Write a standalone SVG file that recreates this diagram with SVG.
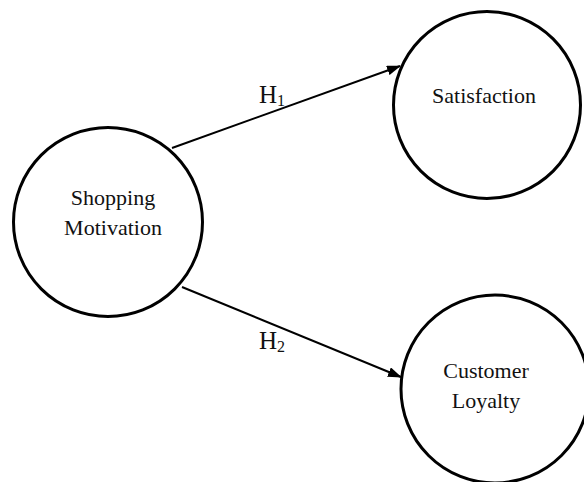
<svg xmlns="http://www.w3.org/2000/svg" width="584" height="482" viewBox="0 0 584 482">
  <style>
    .node { fill: #ffffff; stroke: #000000; stroke-width: 3; }
    .label { font-family: "Liberation Serif", "Times New Roman", serif; font-size: 22px; fill: #111111; text-anchor: middle; }
    .hyp { font-family: "Liberation Serif", "Times New Roman", serif; font-size: 25px; fill: #111111; }
    .sub { font-size: 16px; }
    .edge { stroke: #000000; stroke-width: 2; fill: none; marker-end: url(#arrow); }
  </style>
  <defs>
    <marker id="arrow" markerWidth="14" markerHeight="10" refX="13" refY="5" orient="auto" markerUnits="userSpaceOnUse">
      <path d="M0,0 L14,5 L0,10 Z" fill="#000000"/>
    </marker>
  </defs>
  <rect width="584" height="482" fill="#ffffff"/>

  <g id="connectors">
    <line class="edge" x1="172" y1="148" x2="400" y2="66"/>
    <line class="edge" x1="182" y1="287" x2="401" y2="377"/>
    <text class="hyp" x="259" y="103">H<tspan class="sub" dy="3">1</tspan></text>
    <text class="hyp" x="259" y="349">H<tspan class="sub" dy="3">2</tspan></text>
  </g>

  <g id="shopping-motivation">
    <circle class="node" cx="108" cy="222" r="94.5"/>
    <text class="label" x="113" y="205">Shopping</text>
    <text class="label" x="113" y="235">Motivation</text>
  </g>

  <g id="satisfaction">
    <circle class="node" cx="487" cy="105" r="93.5"/>
    <text class="label" x="484" y="103">Satisfaction</text>
  </g>

  <g id="customer-loyalty">
    <circle class="node" cx="495" cy="389" r="94"/>
    <text class="label" x="486" y="378">Customer</text>
    <text class="label" x="486" y="408">Loyalty</text>
  </g>
</svg>
